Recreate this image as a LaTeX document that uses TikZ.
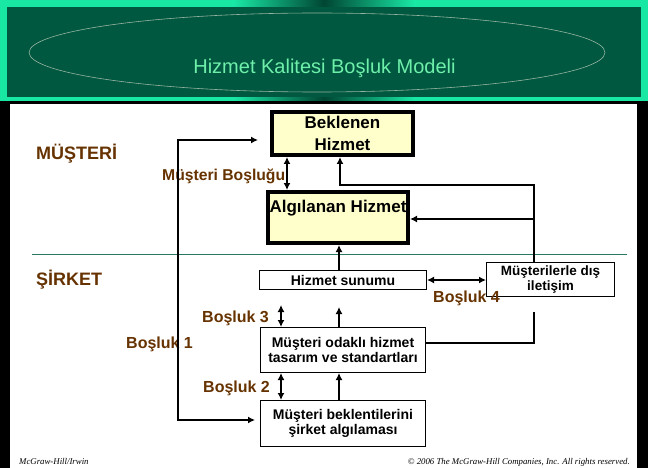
\documentclass[tikz,border=0pt]{standalone}
\usepackage{fontspec}
\setmainfont{Liberation Sans}
\newfontfamily\footfont{Liberation Serif}
\usetikzlibrary{arrows.meta,calc}
\definecolor{hdrdark}{RGB}{0,88,64}
\definecolor{hdrbright}{RGB}{25,232,165}
\definecolor{hdrmid}{RGB}{0,70,50}
\definecolor{titlegreen}{RGB}{110,240,170}
\definecolor{ellcol}{RGB}{150,180,160}
\definecolor{lblbrown}{RGB}{102,51,0}
\definecolor{boxyellow}{RGB}{255,255,204}
\definecolor{sepline}{RGB}{40,120,100}
\pgfdeclarehorizontalshading{hdrshade}{100bp}{color(0bp)=(hdrbright); color(25bp)=(hdrbright); color(43bp)=(hdrbright); color(50bp)=(hdrmid); color(57bp)=(hdrbright); color(75bp)=(hdrbright); color(100bp)=(hdrbright)}
\tikzset{
  thickbox/.style={draw, line width=4pt, fill=boxyellow, inner sep=0pt, align=center,
    font=\fontsize{17}{22}\selectfont\bfseries},
  thinbox/.style={draw, line width=1.2pt, fill=white, inner sep=0pt, align=center,
    font=\fontsize{14}{15}\selectfont\bfseries},
  lbl/.style={text=lblbrown, inner sep=0pt, anchor=base west},
  conn/.style={line width=2.5pt},
  >={Latex[length=7pt,width=7pt]},
  foot/.style={inner sep=0pt, font=\footfont\itshape\fontsize{8.8}{10}\selectfont}
}
\begin{document}
\begin{tikzpicture}[x=1pt,y=-1pt]
\useasboundingbox (0,0) rectangle (648,468);
% background and header
\fill[black] (0,0) rectangle (648,468);
\fill[white] (10,104) rectangle (637,468);
\shade[shading=hdrshade] (0,0) rectangle (648,101);
\fill[hdrdark] (7,7) rectangle (641,97);
\draw[ellcol, line width=0.6pt] (317,52.5) ellipse [x radius=288, y radius=39.5];
\node[inner sep=0pt, anchor=base, text=titlegreen, font=\fontsize{20}{24}\selectfont] (title) at (324.5,74) {Hizmet Kalitesi Boşluk Modeli};
% separator
\draw[sepline, line width=1pt] (32,254) -- (627,254);
% boxes
\node[thickbox, minimum width=141pt, minimum height=43pt] (bek) at (342.5,133.5) {Beklenen\\Hizmet};
\node[thickbox, minimum width=140pt, minimum height=51pt, text height=13pt, text depth=24pt] (alg) at (338,217.5) {Algılanan Hizmet};
\node[thinbox, minimum width=166.8pt, minimum height=18.8pt] (sun) at (343,280) {Hizmet sunumu};
\node[thinbox, minimum width=127.8pt, minimum height=33.8pt, font=\fontsize{13.5}{14.5}\selectfont\bfseries] (dis) at (550.5,279.5) {Müşterilerle dış\\iletişim};
\node[thinbox, minimum width=164.8pt, minimum height=44.8pt] (odk) at (343,350) {Müşteri odaklı hizmet\\tasarım ve standartları};
\node[thinbox, minimum width=164.8pt, minimum height=45.8pt] (bkl) at (343,423.5) {Müşteri beklentilerini\\şirket algılaması};
% labels
\node[lbl, font=\fontsize{18}{20}\selectfont\bfseries] (musteri) at (36,160) {MÜŞTERİ};
\node[lbl, font=\fontsize{18}{20}\selectfont\bfseries] (sirket) at (36,285) {ŞİRKET};
\node[lbl, font=\fontsize{15.7}{18}\selectfont\bfseries] (mb) at (162,180) {Müşteri Boşluğu};
\node[lbl, font=\fontsize{16}{18}\selectfont\bfseries] (b3) at (202,322) {Boşluk 3};
\node[lbl, font=\fontsize{16}{18}\selectfont\bfseries] (b1) at (126,348) {Boşluk 1};
\node[lbl, font=\fontsize{16}{18}\selectfont\bfseries] (b2) at (203,392) {Boşluk 2};
\node[lbl, font=\fontsize{16}{18}\selectfont\bfseries] (b4) at (433,302) {Boşluk 4};
% coordinates
\coordinate (cA) at (287,0);
\coordinate (cB) at (340,0);
\coordinate (cM) at (339,0);
\coordinate (cG) at (281,0);
\coordinate (t1) at (258,140);
\coordinate (l1) at (178,140);
\coordinate (l2) at (178,420);
\coordinate (t2) at (255,420);
\coordinate (r1) at (340,185);
\coordinate (r2) at (534,185);
\coordinate (r3) at (534,219);
\coordinate (r4) at (534,343);
\coordinate (r5) at (534,312);
\coordinate (g3) at (281,305);
\coordinate (u1) at (339,307);
% connectors
\draw[conn,<->] (bek.south -| cA) -- (alg.north -| cA);
\draw[conn,<->] (t1) -- (l1) -- (l2) -- (t2);
\draw[conn,<-] (bek.south -| cB) -- (r1) -- (r2) -- (dis.north -| r2);
\draw[conn,->] (r3) -- (alg.east |- r3);
\draw[conn,->] (sun.north -| cM) -- (alg.south -| cM);
\draw[conn,<->] (sun.east) -- (dis.west |- sun.east);
\draw[conn,<->] (g3) -- (odk.north -| g3);
\draw[conn,->] (odk.north -| cM) -- (u1);
\draw[conn] (odk.east |- r4) -- (r4) -- (r5);
\draw[conn,<->] (odk.south -| cG) -- (bkl.north -| cG);
\draw[conn,->] (bkl.north -| cM) -- (odk.south -| cM);
% footer
\node[foot, anchor=base west] (f1) at (19,464) {McGraw-Hill/Irwin};
\node[foot, anchor=base east] (f2) at (630,464) {© 2006 The McGraw-Hill Companies, Inc. All rights reserved.};
\end{tikzpicture}
\end{document}
